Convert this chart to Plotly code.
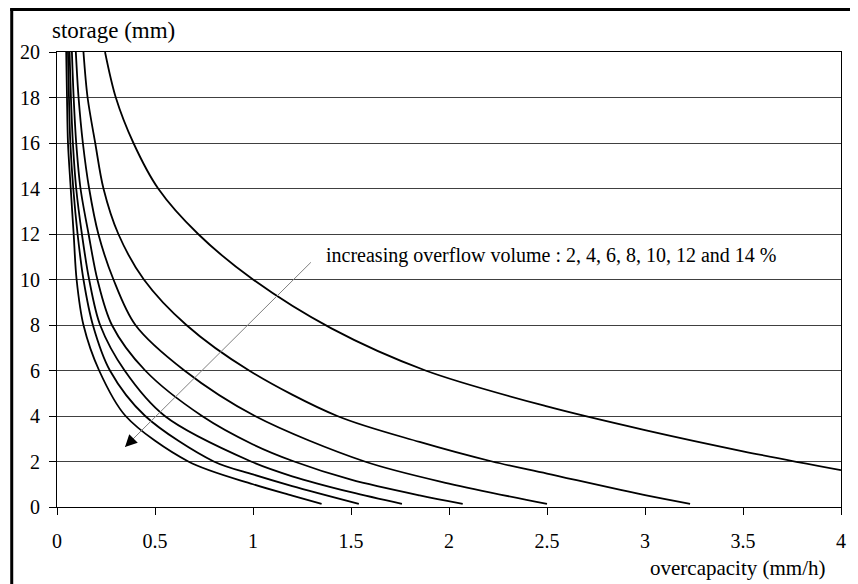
import plotly.graph_objects as go

# overflow volume percentages (rightmost curve = 2 %)
volumes = ["2 %", "4 %", "6 %", "8 %", "10 %", "12 %", "14 %"]

x_2 = [0.245, 0.30, 0.39, 0.516, 0.72, 1.0, 1.4, 1.88, 2.5, 3.0, 3.5, 4.0]
y_2 = [20, 18, 16, 14, 12, 10, 7.85, 6, 4.42, 3.38, 2.45, 1.62]

x_4 = [0.135, 0.156, 0.195, 0.237, 0.313, 0.443, 0.66, 0.98, 1.43, 1.85, 2.22, 2.5, 3.0, 3.23]
y_4 = [20, 18, 16, 14, 12, 10, 8, 6, 4, 2.86, 2.0, 1.47, 0.52, 0.14]

x_6 = [0.096, 0.11, 0.132, 0.164, 0.211, 0.288, 0.40, 0.65, 1.01, 1.57, 2.0, 2.5]
y_6 = [20, 18, 16, 14, 12, 10, 8, 6, 4, 2, 1.03, 0.14]

x_8 = [0.076, 0.085, 0.098, 0.12, 0.161, 0.206, 0.28, 0.45, 0.74, 1.0, 1.21, 1.5, 1.85, 2.07]
y_8 = [20, 18, 16, 14, 12, 10, 8, 6, 4, 2.75, 2, 1.2, 0.51, 0.14]

x_10 = [0.064, 0.071, 0.081, 0.098, 0.127, 0.164, 0.22, 0.345, 0.55, 0.99, 1.2, 1.5, 1.76]
y_10 = [20, 18, 16, 14, 12, 10, 8, 6, 4, 2, 1.35, 0.65, 0.14]

x_12 = [0.056, 0.061, 0.068, 0.083, 0.105, 0.135, 0.183, 0.27, 0.45, 0.80, 1.0, 1.2, 1.54]
y_12 = [20, 18, 16, 14, 12, 10, 8, 6, 4, 2, 1.43, 0.92, 0.14]

x_14 = [0.047, 0.051, 0.056, 0.07, 0.085, 0.10, 0.135, 0.215, 0.35, 0.67, 1.0, 1.2, 1.35]
y_14 = [20, 18, 16, 14, 12, 10, 8, 6, 4, 2, 1.0, 0.5, 0.14]

series_x = [x_2, x_4, x_6, x_8, x_10, x_12, x_14]
series_y = [y_2, y_4, y_6, y_8, y_10, y_12, y_14]

x_ticks = [0, 0.5, 1, 1.5, 2, 2.5, 3, 3.5, 4]
x_tick_labels = ["0", "0.5", "1", "1.5", "2", "2.5", "3", "3.5", "4"]
y_ticks = [0, 2, 4, 6, 8, 10, 12, 14, 16, 18, 20]

note_text = "increasing overflow volume : 2, 4, 6, 8, 10, 12 and 14 %"

FONT = "Liberation Serif"

fig = go.Figure()
for name, xs, ys in zip(volumes, series_x, series_y):
    fig.add_trace(go.Scatter(
        x=xs, y=ys, mode="lines", name=name,
        line=dict(color="black", width=1.8, shape="spline", smoothing=0.9),
        showlegend=False, hoverinfo="skip"))

# page body has an 8 px margin: figure pixel = screen pixel - 8
OFF = 8
W, H = 858 - OFF, 584 - OFF
ml, mt = 55 - OFF, 52 - OFF
mr = W - (843 - OFF)
mb = H - (507 - OFF)
pw, ph = W - ml - mr, H - mt - mb

def px2paper(px, py):
    """screen pixel -> paper coords"""
    fx = px - OFF
    fy = py - OFF
    return (fx - ml) / pw, (H - mb - fy) / ph

# outer frame (left and top visible)
fx, fy = px2paper(9.5, 9.6)
_, fyb = px2paper(0, 600)
fxr, _ = px2paper(870, 0)
fig.add_shape(type="line", xref="paper", yref="paper", x0=fx, x1=fx, y0=fyb, y1=fy + 0.003,
              line=dict(color="black", width=3), layer="above")
fig.add_shape(type="line", xref="paper", yref="paper", x0=fx - 0.002, x1=fxr, y0=fy, y1=fy,
              line=dict(color="black", width=3), layer="above")

# arrow: gray shaft and black head
tip_x, tip_y = 0.347, 2.64
tail_x, tail_y = 1.303, 10.82
fig.add_annotation(x=tip_x, y=tip_y, ax=tail_x, ay=tail_y, axref="x", ayref="y",
                   xref="x", yref="y", showarrow=True, arrowhead=0,
                   arrowcolor="#808080", arrowwidth=1, text="")
fig.add_annotation(x=tip_x, y=tip_y, ax=9, ay=-9, xref="x", yref="y",
                   showarrow=True, arrowhead=2, arrowsize=1.6, arrowwidth=1.5,
                   arrowcolor="black", text="")

fig.add_annotation(x=1.36, y=11.05, xref="x", yref="y", text=note_text,
                   showarrow=False, xanchor="left", yanchor="middle",
                   font=dict(family=FONT, size=20, color="black"))

# axis titles
tx, ty = px2paper(48, 31)
fig.add_annotation(x=tx, y=ty, xref="paper", yref="paper", text="storage (mm)",
                   showarrow=False, xanchor="left", yanchor="middle",
                   font=dict(family=FONT, size=23, color="black"))
tx, ty = px2paper(830, 568)
fig.add_annotation(x=tx, y=ty, xref="paper", yref="paper", text="overcapacity (mm/h)",
                   showarrow=False, xanchor="right", yanchor="middle",
                   font=dict(family=FONT, size=21, color="black"))

fig.update_layout(
    width=W, height=H,
    margin=dict(l=ml, r=mr, t=mt, b=mb, pad=0),
    paper_bgcolor="white", plot_bgcolor="white",
    font=dict(family=FONT, size=20, color="black"),
    xaxis=dict(range=[0, 4], tickvals=x_ticks, ticktext=x_tick_labels,
               showgrid=False, zeroline=False, showline=True, linecolor="black",
               linewidth=1, mirror=True, ticks="outside", ticklen=7, tickcolor="black",
               ticklabelstandoff=9,
               tickfont=dict(family=FONT, size=20, color="black")),
    yaxis=dict(range=[0, 20], tickvals=y_ticks, showgrid=True, gridcolor="#404040",
               gridwidth=1, zeroline=False, showline=True, linecolor="black",
               linewidth=1, mirror=True, ticks="outside", ticklen=7, tickcolor="black",
               ticklabelstandoff=5,
               tickfont=dict(family=FONT, size=20, color="black")),
)

fig.write_html("out.html")
